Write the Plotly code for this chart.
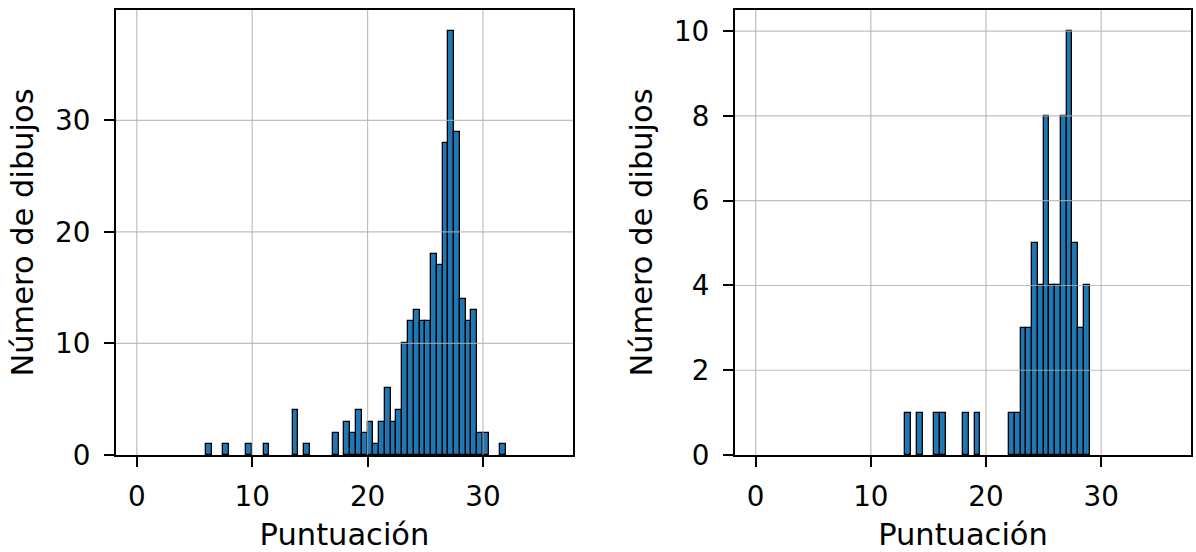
import plotly.graph_objects as go

# ---------------- data ----------------
bin_width = 0.5

left_bin_starts = [6.0, 7.5, 9.5, 11.0, 13.5, 14.5, 17.0, 18.0, 18.5, 19.0, 19.5,
                   20.0, 20.5, 21.0, 21.5, 22.0, 22.5, 23.0, 23.5, 24.0, 24.5,
                   25.0, 25.5, 26.0, 26.5, 27.0, 27.5, 28.0, 28.5, 29.0, 29.5,
                   30.0, 31.5]
left_counts = [1, 1, 1, 1, 4, 1, 2, 3, 2, 4, 2,
               3, 1, 3, 6, 3, 4, 10, 12, 13, 12,
               12, 18, 17, 28, 38, 29, 14, 12, 13, 2,
               2, 1]

right_bin_starts = [13.0, 14.0, 15.5, 16.0, 18.0, 19.0, 22.0, 22.5, 23.0, 23.5,
                    24.0, 24.5, 25.0, 25.5, 26.0, 26.5, 27.0, 27.5, 28.0, 28.5]
right_counts = [1, 1, 1, 1, 1, 1, 1, 1, 3, 3,
                5, 4, 8, 4, 4, 8, 10, 5, 3, 4]

x_ticks = [0, 10, 20, 30]
left_y_ticks = [0, 10, 20, 30]
right_y_ticks = [0, 2, 4, 6, 8, 10]

x_label = "Puntuación"
y_label = "Número de dibujos"

# ---------------- style ----------------
BAR_COLOR = "#1f77b4"
GRID_COLOR = "#b0b0b0"
FONT = "DejaVu Sans"
TICK_SIZE = 27.8
TITLE_SIZE = 30.5
X_RANGE = [-1.8, 37.8]

fig = go.Figure()

fig.add_trace(go.Bar(
    x=[s + bin_width / 2 for s in left_bin_starts], y=left_counts,
    width=bin_width, marker=dict(color=BAR_COLOR, line=dict(color="black", width=1.3)),
    xaxis="x", yaxis="y", showlegend=False))

fig.add_trace(go.Bar(
    x=[s + bin_width / 2 for s in right_bin_starts], y=right_counts,
    width=bin_width, marker=dict(color=BAR_COLOR, line=dict(color="black", width=1.3)),
    xaxis="x2", yaxis="y2", showlegend=False))

axis_common = dict(
    showline=True, linecolor="black", linewidth=2.2, mirror=True,
    ticks="outside", ticklen=10, tickwidth=2.2, tickcolor="black",
    showgrid=False, zeroline=False,
    tickfont=dict(family=FONT, size=TICK_SIZE, color="black"),
    automargin=False,
)

left_ymax = max(left_counts) * 1.05
right_ymax = max(right_counts) * 1.05

fig.update_layout(
    width=1196, height=552,
    margin=dict(l=116, r=5, t=10, b=97),
    paper_bgcolor="white", plot_bgcolor="white",
    bargap=0,
    font=dict(family=FONT, color="black"),
    xaxis=dict(domain=[0, 0.4251], range=X_RANGE, tickvals=x_ticks,
               title=dict(text=x_label, font=dict(family=FONT, size=TITLE_SIZE), standoff=14),
               ticklabelstandoff=6, **axis_common),
    yaxis=dict(domain=[0, 1], range=[0, left_ymax], tickvals=left_y_ticks,
               title=dict(text=y_label, font=dict(family=FONT, size=TITLE_SIZE), standoff=12),
               ticklabelstandoff=8, **axis_common),
    xaxis2=dict(domain=[0.5758, 1.0], range=X_RANGE, tickvals=x_ticks, anchor="y2",
                title=dict(text=x_label, font=dict(family=FONT, size=TITLE_SIZE), standoff=14),
                ticklabelstandoff=6, **axis_common),
    yaxis2=dict(domain=[0, 1], range=[0, right_ymax], tickvals=right_y_ticks, anchor="x2",
                title=dict(text=y_label, font=dict(family=FONT, size=TITLE_SIZE), standoff=12),
                ticklabelstandoff=8, **axis_common),
)

# grid lines drawn above the bars (as in the reference)
shapes = []
for xref, yref, yt in [("x", "y", left_y_ticks), ("x2", "y2", right_y_ticks)]:
    for xv in x_ticks:
        shapes.append(dict(type="line", xref=xref, yref=yref + " domain", x0=xv, x1=xv, y0=0, y1=1,
                           line=dict(color=GRID_COLOR, width=1.2), layer="above", opacity=0.8))
    for yv in yt:
        if yv == 0:
            continue
        shapes.append(dict(type="line", xref=xref + " domain", yref=yref, x0=0, x1=1, y0=yv, y1=yv,
                           line=dict(color=GRID_COLOR, width=1.2), layer="above", opacity=0.8))
fig.update_layout(shapes=shapes)

fig.write_html("out.html")
